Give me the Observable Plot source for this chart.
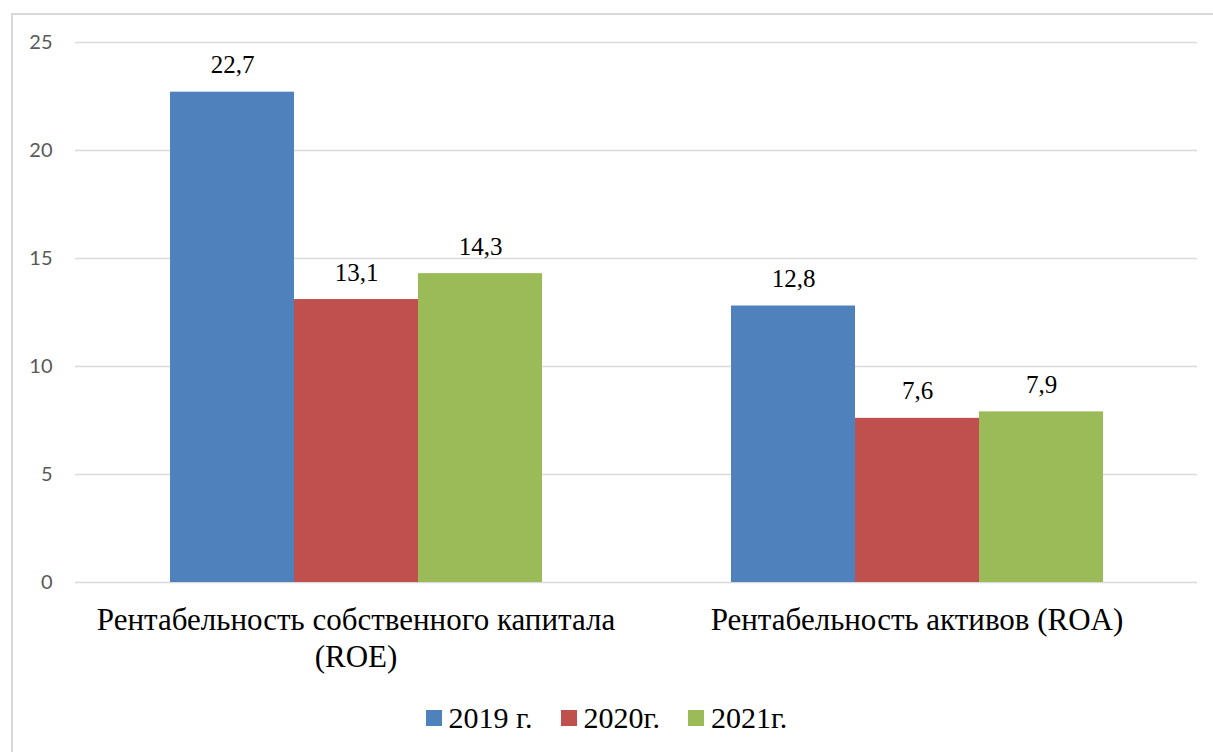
<!DOCTYPE html>
<html><head><meta charset="utf-8">
<script src="https://cdn.jsdelivr.net/npm/d3@7"></script>
<script src="https://cdn.jsdelivr.net/npm/@observablehq/plot@0.6"></script>
<style>
html,body{margin:0;padding:0;background:#fff;}
#wrap{position:relative;width:1213px;height:752px;overflow:hidden;}
#frame{position:absolute;left:11px;top:13px;width:1210px;height:760px;border:2px solid #d9d9d9;box-sizing:border-box;}
#chart{position:absolute;left:0;top:0;}
#legend{position:absolute;left:0;top:700px;width:1213px;display:flex;justify-content:center;gap:28px;font-size:30px;line-height:36px;color:#000;font-family:'Liberation Serif',serif;}
#legend .it{display:flex;align-items:center;gap:7px;}
#legend .sw{width:16px;height:16px;display:inline-block;}
</style></head>
<body><div id="wrap"><div id="frame"></div><div id="chart"></div><div id="legend"></div></div>
<script>
const categories = ["Рентабельность собственного капитала (ROE)", "Рентабельность активов (ROA)"];
const categoryLabels = ["Рентабельность собственного капитала\n(ROE)", "Рентабельность активов (ROA)"];
const years = ["2019 г.", "2020г.", "2021г."];
const colors = ["#4F81BD", "#C0504D", "#9BBB59"];
const roeValues = [22.7, 13.1, 14.3];
const roaValues = [12.8, 7.6, 7.9];
const yTicks = [0, 5, 10, 15, 20, 25];

const data = [];
years.forEach((y, i) => {
  data.push({cat: categories[0], year: y, value: roeValues[i]});
  data.push({cat: categories[1], year: y, value: roaValues[i]});
});
const fmt = v => String(v).replace(".", ",");
const serif = "'Liberation Serif', serif";

const chart = Plot.plot({
  width: 1213,
  height: 690,
  marginTop: 42,
  marginBottom: 108,
  marginLeft: 75,
  marginRight: 16,
  style: {background: "transparent", overflow: "visible"},
  fx: {domain: categories, padding: 0, axis: null},
  x: {domain: years, paddingInner: 0, paddingOuter: 0.75, axis: null},
  y: {domain: [0, 25], axis: null},
  color: {domain: years, range: colors},
  marks: [
    Plot.gridY(yTicks, {stroke: "#d9d9d9", strokeOpacity: 1, strokeWidth: 1.5}),
    Plot.axisY(yTicks, {label: null, tickSize: 0, tickPadding: 23, fontSize: 20, fill: "#595959", fontFamily: "Lato, sans-serif"}),
    Plot.barY(data, {fx: "cat", x: "year", y: "value", fill: "year"}),
    Plot.text(data, {fx: "cat", x: "year", y: "value", text: d => fmt(d.value), lineAnchor: "bottom", dy: -19, fontSize: 25, fill: "#000", fontFamily: serif}),
    Plot.text(categories, {fx: d => d, text: (d, i) => categoryLabels[i], frameAnchor: "bottom", lineAnchor: "top", dy: 21, lineHeight: 1.2, fontSize: 31, fill: "#000", fontFamily: serif})
  ]
});
document.getElementById("chart").appendChild(chart);

const leg = document.getElementById("legend");
years.forEach((y, i) => {
  const it = document.createElement("div");
  it.className = "it";
  it.innerHTML = `<span class="sw" style="background:${colors[i]}"></span><span>${y}</span>`;
  leg.appendChild(it);
});
</script></body></html>
